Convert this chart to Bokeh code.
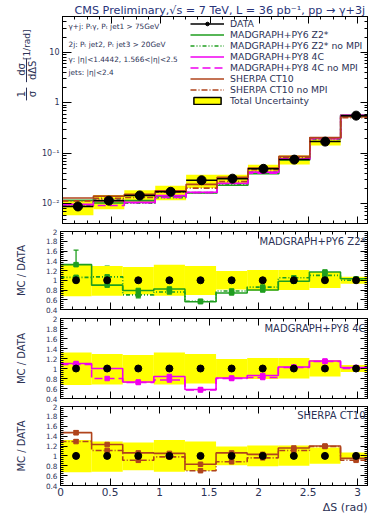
import numpy as np
from bokeh.plotting import figure
from bokeh.models import (ColumnDataSource, Range1d, LinearAxis, LogAxis, FixedTicker,
                          Label, Legend, LegendItem, CustomJSTickFormatter, Title,
                          Whisker, TeeHead)
from bokeh.layouts import column, row
from bokeh.embed import file_html
from bokeh.resources import INLINE
from bokeh.core.properties import value

# ---------------- data ----------------
bin_edges = [i * np.pi / 10 for i in range(11)]          # 10 bins of pi/10 in Delta S
data = [0.0089, 0.0116, 0.0147, 0.0174, 0.0294, 0.0316, 0.0495, 0.0753, 0.171, 0.558]
data_stat_rel = [0.05, 0.04, 0.04, 0.04, 0.03, 0.03, 0.02, 0.02, 0.015, 0.01]
unc_low = [0.67, 0.68, 0.71, 0.68, 0.70, 0.81, 0.79, 0.80, 0.84, 0.93]
unc_high = [1.32, 1.29, 1.27, 1.32, 1.29, 1.19, 1.21, 1.21, 1.17, 1.07]

py6_z2 = [1.32, 0.90, 0.79, 0.82, 0.56, 0.74, 0.80, 0.98, 1.17, 1.03]
py6_z2_err = [0.30, 0.05, 0.04, 0.04, 0.02, 0.02, 0.03, 0.02, 0.02, 0.01]
py6_z2_nompi = [1.06, 1.07, 0.70, 0.76, 0.57, 0.78, 0.86, 1.05, 1.10, 1.00]
py6_z2_nompi_err = [0.05, 0.22, 0.06, 0.05, 0.02, 0.03, 0.03, 0.02, 0.02, 0.01]

py8_4c = [1.10, 1.00, 0.73, 0.84, 0.58, 0.81, 0.86, 1.03, 1.15, 1.02]
py8_4c_err = [0.08, 0.03, 0.02, 0.03, 0.02, 0.02, 0.02, 0.02, 0.02, 0.01]
py8_4c_nompi = [1.08, 0.80, 0.72, 0.77, 0.57, 0.80, 0.82, 1.02, 1.14, 1.00]
py8_4c_nompi_err = [0.04, 0.04, 0.02, 0.06, 0.02, 0.02, 0.02, 0.02, 0.02, 0.01]

sherpa = [1.47, 1.23, 1.06, 1.05, 0.83, 1.06, 1.03, 1.16, 1.20, 0.95]
sherpa_err = [0.04, 0.04, 0.03, 0.05, 0.02, 0.02, 0.02, 0.02, 0.02, 0.01]
sherpa_nompi = [1.29, 1.11, 0.91, 0.98, 0.70, 0.88, 0.96, 1.11, 1.19, 0.91]
sherpa_nompi_err = [0.04, 0.04, 0.03, 0.04, 0.02, 0.02, 0.02, 0.02, 0.02, 0.01]

x_tick_values = [0, 0.5, 1, 1.5, 2, 2.5, 3]
ratio_tick_values = [0.4, 0.6, 0.8, 1.0, 1.2, 1.4, 1.6, 1.8, 2.0]
log_tick_values = [0.01, 0.1, 1, 10]

# ---------------- style ----------------
FONT = "DejaVu Sans"
TXT = "#2c3256"
GREEN = "#1f9e1f"
MAGENTA = "#f000f0"
BROWN = "#b0441c"
YELLOW = "#ffff00"
W = 368
LEFT = 60
YLAB_W = 38
MAIN_H = 227

edges = np.array(bin_edges)
lefts, rights = edges[:-1], edges[1:]
centers = (lefts + rights) / 2
d = np.array(data)

x_range = Range1d(0, 3.1)
x_minor = [i * 0.125 for i in range(0, 26)]

log_fmt = CustomJSTickFormatter(code="""
const e = Math.round(Math.log10(tick));
if (e === 0) return '1';
if (e === 1) return '10';
const sup = {'-1': '\u207b\u00b9', '-2': '\u207b\u00b2', '-3': '\u207b\u00b3'};
return '10' + sup[String(e)];
""")
num_fmt = CustomJSTickFormatter(code="return String(Number(tick.toFixed(2)));")


def style_axis(ax, show_labels, size="9px"):
    ax.major_tick_in = 7
    ax.major_tick_out = 0
    ax.minor_tick_in = 3
    ax.minor_tick_out = 0
    ax.axis_line_color = "black"
    ax.major_tick_line_color = "black"
    ax.minor_tick_line_color = "black"
    ax.major_label_text_font = FONT
    ax.major_label_text_color = TXT
    if show_labels:
        ax.major_label_text_font_size = size
        ax.major_label_standoff = 3
    else:
        ax.formatter = CustomJSTickFormatter(code="return '';")
        ax.major_label_text_font_size = "2px"
        ax.major_label_standoff = 0


def make_fig(width, left, height, btop, bbottom, y_range, log=False):
    p = figure(width=width, height=height, x_range=x_range, y_range=y_range,
               y_axis_type="log" if log else "linear",
               output_backend="svg", toolbar_location=None,
               min_border_left=left, min_border_right=1,
               min_border_top=btop, min_border_bottom=bbottom)
    p.grid.visible = False
    p.outline_line_color = "black"
    p.outline_line_width = 1
    p.background_fill_color = "white"
    p.border_fill_color = "white"
    xt = FixedTicker(ticks=x_tick_values, minor_ticks=x_minor)
    if log:
        yt = FixedTicker(ticks=log_tick_values,
                         minor_ticks=[k * 10.0 ** e for e in range(-3, 2) for k in range(2, 10)])
        yfmt = log_fmt
    else:
        yt = FixedTicker(ticks=ratio_tick_values,
                         minor_ticks=[0.4 + 0.04 * i for i in range(41)])
        yfmt = num_fmt
    bottom_ax = p.below[0]
    left_ax = p.left[0]
    bottom_ax.ticker = xt
    bottom_ax.formatter = num_fmt
    left_ax.ticker = yt
    left_ax.formatter = yfmt
    top_ax = LinearAxis(ticker=xt)
    right_ax = (LogAxis if log else LinearAxis)(ticker=yt)
    style_axis(top_ax, False)
    style_axis(right_ax, False)
    p.add_layout(top_ax, "above")
    p.add_layout(right_ax, "right")
    return p, bottom_ax, left_ax


# ---------------- y-axis title of the main panel (separate strip) ----------------
ylab = figure(width=YLAB_W, height=MAIN_H, x_range=Range1d(0, YLAB_W),
              y_range=Range1d(MAIN_H, 0), output_backend="svg", toolbar_location=None,
              x_axis_location=None, y_axis_location=None,
              min_border=0, min_border_left=0, min_border_right=0,
              min_border_top=0, min_border_bottom=0)
ylab.outline_line_color = None
ylab.grid.visible = False
ylab_text = ["[1/rad]", "d\u03c3", "d\u0394S", "1", "\u03c3"]
ylab_x = [26, 20.5, 31.5, 20.5, 31.5]
ylab_y = [31, 58, 59, 85, 85]
ylab_size = ["9px", "10px", "10px", "10px", "10px"]
ylab.text(x=ylab_x, y=ylab_y, text=ylab_text, angle=np.pi / 2,
          text_align="center", text_baseline="middle", text_font=value(FONT),
          text_font_size=ylab_size, text_color=TXT)
ylab.segment(x0=[26, 26], x1=[26, 26], y0=[46, 78], y1=[72, 92], line_color=TXT, line_width=1)

# ---------------- main panel ----------------
pm, pm_bottom, pm_left = make_fig(W - YLAB_W, LEFT - YLAB_W, MAIN_H, 16, 4,
                                  Range1d(0.0041, 51), log=True)
style_axis(pm_bottom, False)
style_axis(pm_left, True, "8px")
pm_left.major_tick_in = 9
pm_left.minor_tick_in = 4

pm.title.text = "CMS Preliminary,\u221as = 7 TeV, L = 36 pb\u207b\u00b9, pp \u2192 \u03b3+3j"
pm.title.align = "left"
pm.title.offset = 12
pm.title.standoff = 0
pm.title.text_font = FONT
pm.title.text_font_size = "11.2px"
pm.title.text_font_style = "normal"
pm.title.text_color = "#28347a"

pm.quad(left=lefts, right=rights, bottom=d * np.array(unc_low), top=d * np.array(unc_high),
        fill_color=YELLOW, line_color=None)

mc_styles = [
    (py6_z2, GREEN, "solid", "MADGRAPH+PY6 Z2*"),
    (py6_z2_nompi, GREEN, "4 2 1 2 1 2", "MADGRAPH+PY6 Z2* no MPI"),
    (py8_4c, MAGENTA, "solid", "MADGRAPH+PY8 4C"),
    (py8_4c_nompi, MAGENTA, "8 4", "MADGRAPH+PY8 4C no MPI"),
    (sherpa, BROWN, "solid", "SHERPA CT10"),
    (sherpa_nompi, BROWN, "6 2 1 2", "SHERPA CT10 no MPI"),
]

items_mc = []
for ratio, col, dash, name in mc_styles:
    vals = d * np.array(ratio)
    r = pm.step(x=list(edges), y=list(vals) + [vals[-1]], mode="after",
                line_color=col, line_width=1.6, line_dash=dash)
    items_mc.append(LegendItem(label=name, renderers=[r]))

r_dx = pm.segment(x0=lefts, x1=rights, y0=d, y1=d, line_color="black", line_width=1.5)
pm.segment(x0=centers, x1=centers, y0=d * (1 - np.array(data_stat_rel)),
           y1=d * (1 + np.array(data_stat_rel)), line_color="black", line_width=1.5)
r_dp = pm.scatter(x=centers, y=d, size=9, marker="circle", fill_color="black", line_color="black")

# legend swatch for the total uncertainty (not drawn in the plot area: NaN position)
r_unc = pm.quad(left=[np.nan], right=[np.nan], bottom=[np.nan], top=[np.nan],
                fill_color=YELLOW, line_color="black", line_width=1.5)

legend = Legend(items=[LegendItem(label="DATA", renderers=[r_dx, r_dp])] + items_mc +
                [LegendItem(label="Total Uncertainty", renderers=[r_unc])],
                location=(128, 117))
legend.border_line_color = None
legend.background_fill_alpha = 0
legend.padding = 0
legend.margin = 0
legend.spacing = 0
legend.glyph_width = 34
legend.glyph_height = 9
legend.label_height = 9
legend.label_standoff = 6
legend.label_text_font = FONT
legend.label_text_font_size = "9.3px"
legend.label_text_color = TXT
legend.label_text_baseline = "middle"
pm.add_layout(legend)

# selection text
for t, yy in [("\u03b3+j: P\u209c\u03b3, P\u209c jet1 > 75GeV", 197),
              ("2j: P\u209c jet2, P\u209c jet3 > 20GeV", 179),
              ("\u03b3: |\u03b7|<1.4442, 1.566<|\u03b7|<2.5", 164),
              ("jets: |\u03b7|<2.4", 151)]:
    pm.add_layout(Label(x=6, y=yy, x_units="screen", y_units="screen", text=t,
                        text_font=FONT, text_font_size="7.3px", text_color=TXT,
                        text_baseline="middle", text_align="left"))


# ---------------- ratio panels ----------------
def ratio_panel(height, btop, bbottom, name, solid, solid_err, dashed, dashed_err, col, dash,
                show_x_labels):
    p, bax, lax = make_fig(W, LEFT, height, btop, bbottom, Range1d(0.4, 2.0))
    style_axis(bax, show_x_labels, "10.5px")
    style_axis(lax, True, "7.3px")
    lax.axis_label = "MC / DATA"
    lax.axis_label_text_font = FONT
    lax.axis_label_text_font_size = "10px"
    lax.axis_label_text_font_style = "normal"
    lax.axis_label_text_color = TXT
    lax.axis_label_standoff = 16
    p.quad(left=lefts, right=rights, bottom=unc_low, top=unc_high,
           fill_color=YELLOW, line_color=None)
    for vals, errs, ld in [(dashed, dashed_err, dash), (solid, solid_err, "solid")]:
        v = np.array(vals)
        e = np.array(errs)
        p.step(x=list(edges), y=list(v) + [v[-1]], mode="after",
               line_color=col, line_width=1.6, line_dash=ld)
        src = ColumnDataSource(dict(x=centers, lo=v - e, up=v + e))
        p.add_layout(Whisker(source=src, base="x", lower="lo", upper="up",
                             line_color=col, line_width=1.3,
                             upper_head=TeeHead(size=5, line_color=col, line_width=1.3),
                             lower_head=TeeHead(size=5, line_color=col, line_width=1.3)))
        p.scatter(x=centers, y=v, size=4.5, marker="square", fill_color=col, line_color=col)
    p.scatter(x=centers, y=d / d, size=7, marker="circle", fill_color="black", line_color="black")
    p.add_layout(Label(x=3.08, y=height - btop - bbottom - 10, x_units="data", y_units="screen",
                       text=name, text_font=FONT, text_font_size="10px", text_color=TXT,
                       text_baseline="middle", text_align="right"))
    return p, bax


p1, _ = ratio_panel(87, 4, 5, "MADGRAPH+PY6 Z2*", py6_z2, py6_z2_err,
                    py6_z2_nompi, py6_z2_nompi_err, GREEN, "4 2 1 2 1 2", False)
p2, _ = ratio_panel(88, 4, 4, "MADGRAPH+PY8 4C", py8_4c, py8_4c_err,
                    py8_4c_nompi, py8_4c_nompi_err, MAGENTA, "8 4", False)
p3, p3_bottom = ratio_panel(111, 4, 27, "SHERPA CT10", sherpa, sherpa_err,
                            sherpa_nompi, sherpa_nompi_err, BROWN, "6 2 1 2", True)
p3_bottom.major_label_standoff = 2
p3.add_layout(Title(text="\u0394S (rad)", align="right", standoff=0, offset=0,
                    text_font=FONT, text_font_size="11px", text_font_style="normal",
                    text_color=TXT), "below")

layout = column(row(ylab, pm, spacing=0), p1, p2, p3, spacing=0)
open("out.html", "w").write(file_html(layout, INLINE))
